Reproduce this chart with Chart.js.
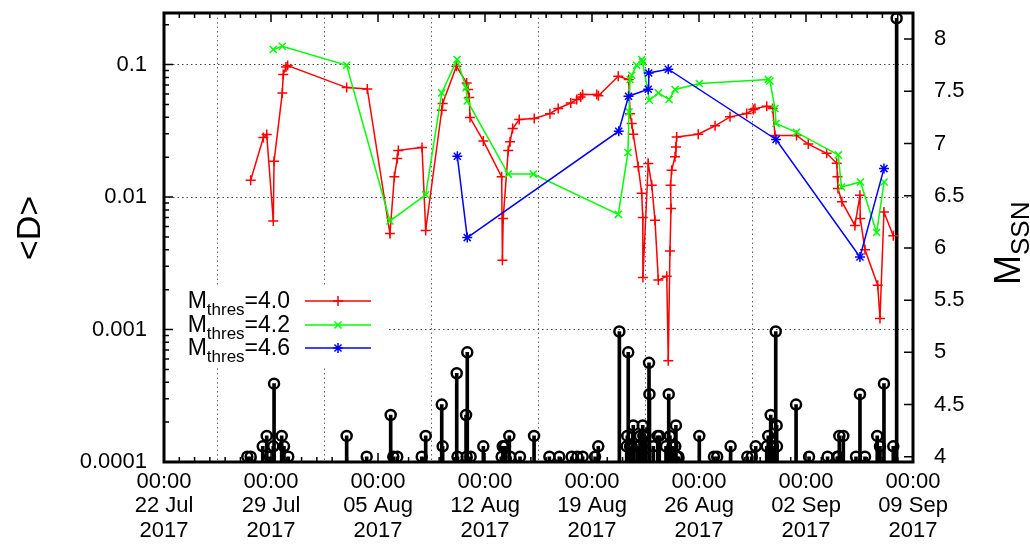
<!DOCTYPE html>
<html>
<head>
<meta charset="utf-8">
<script src="https://cdn.jsdelivr.net/npm/chart.js@4.4.1/dist/chart.umd.min.js"></script>
<style>
  html, body { margin: 0; padding: 0; background: #fff; }
  canvas { display: block; }
</style>
</head>
<body>
<canvas id="chart" width="1030" height="545"></canvas>
<script>
'use strict'

// x values are days counted from 22 Jul 2017 00:00
var xTickLabels = ['22 Jul', '29 Jul', '05 Aug', '12 Aug', '19 Aug', '26 Aug', '02 Sep', '09 Sep']
var xTickYear = '2017'
var yTickLabels = ['0.0001', '0.001', '0.01', '0.1']
var thresholds = ['4.0', '4.2', '4.6']

var redDays = [5.67, 6.50, 6.72, 7.15, 7.20, 7.74, 7.80, 7.98, 8.09, 11.95, 13.30, 14.78, 15.07, 15.26, 15.33,
  16.88, 17.12, 18.17, 18.23, 19.13, 19.80, 19.89, 19.97, 20.02, 20.89, 22.09, 22.14, 22.19, 22.52, 22.64,
  22.81, 23.24, 24.22, 25.25, 25.79, 26.61, 27.00, 27.26, 27.39, 28.31, 28.42, 29.72, 30.40, 30.49, 30.60,
  30.70, 31.03, 31.25, 31.32, 31.33, 31.68, 31.91, 32.12, 32.34, 32.89, 32.99, 33.10, 33.17, 33.14, 33.21,
  33.43, 33.49, 33.54, 34.95, 36.05, 37.03, 38.12, 38.55, 38.66, 39.43, 39.82, 39.97, 41.38, 42.15, 43.35,
  44.01, 44.06, 44.09, 44.35, 45.20, 45.53, 45.55, 45.86, 46.69, 46.84, 47.10, 47.71]
var redValues = [0.0134, 0.0281, 0.0297, 0.0066, 0.0186, 0.0611, 0.0841, 0.0959, 0.0983, 0.067, 0.0655, 0.0053, 0.0142, 0.0195, 0.0225,
  0.0237, 0.0056, 0.0452, 0.0508, 0.097, 0.0726, 0.0648, 0.0564, 0.0398, 0.0265, 0.0142, 0.00334, 0.0069, 0.0225, 0.0261,
  0.0329, 0.0385, 0.0391, 0.0426, 0.0466, 0.0513, 0.0544, 0.0569, 0.0594, 0.0594, 0.0582, 0.0816, 0.0771, 0.0426, 0.0359,
  0.0298, 0.0169, 0.0107, 0.0070, 0.00247, 0.0179, 0.0123, 0.00668, 0.00236, 0.00252, 0.00058, 0.00392, 0.0082, 0.0123, 0.0159,
  0.0201, 0.0239, 0.0284, 0.0298, 0.0345, 0.0403, 0.0427, 0.0457, 0.0465, 0.0485, 0.0466, 0.0292, 0.0292, 0.0251, 0.0214,
  0.0180, 0.0142, 0.0116, 0.0092, 0.0061, 0.0103, 0.0069, 0.0040, 0.00216, 0.00121, 0.0077, 0.0051]

var greenDays = [7.15, 7.74, 11.95, 14.78, 17.12, 18.17, 19.17, 19.76, 19.84, 22.52, 24.16, 29.72, 30.35, 30.42,
  30.49, 30.60, 30.92, 31.25, 31.31, 31.75, 32.34, 33.04, 33.43, 35.02, 39.53, 39.64, 39.97, 40.04, 41.38,
  44.11, 44.32, 45.56, 46.62, 47.11]
var greenValues = [0.130, 0.1374, 0.0988, 0.0066, 0.0104, 0.0611, 0.109, 0.067, 0.0531, 0.0149, 0.0149, 0.0074, 0.0217, 0.0439,
  0.0771, 0.083, 0.0988, 0.109, 0.1047, 0.0538, 0.0611, 0.0545, 0.0648, 0.072, 0.0771, 0.0752, 0.0466, 0.0359, 0.0308,
  0.0208, 0.0119, 0.0130, 0.0054, 0.0130]

var blueDays = [19.19, 19.84, 29.75, 30.39, 31.68, 31.71, 32.99, 40.04, 45.53, 47.10]
var blueValues = [0.0203, 0.00494, 0.0314, 0.0577, 0.0651, 0.0864, 0.0922, 0.0272, 0.00353, 0.0164]

var quakeDays = [5.45, 5.67, 6.46, 6.72, 6.93, 7.15, 7.20, 7.70, 7.85, 8.13, 11.95, 13.26, 14.83, 15.00, 15.26,
  16.86, 17.12, 18.17, 18.23, 19.15, 19.20, 19.76, 19.80, 19.84, 20.06, 20.89, 22.09, 22.16, 22.31, 22.59,
  22.64, 23.29, 24.21, 25.21, 25.86, 26.67, 27.04, 27.39, 28.20, 28.41, 29.79, 30.27, 30.31, 30.37, 30.49,
  30.60, 30.70, 30.94, 31.10, 31.14, 31.32, 31.36, 31.47, 31.50, 31.73, 31.76, 32.01, 32.30, 32.40, 32.84,
  33.02, 33.10, 33.26, 33.45, 33.49, 33.55, 33.65, 35.02, 35.98, 36.19, 37.07, 38.16, 38.45, 38.71, 39.43,
  39.53, 39.69, 39.84, 40.02, 40.08, 40.10, 41.35, 42.20, 43.41, 44.05, 44.11, 44.18, 44.44, 45.27, 45.53,
  45.86, 46.66, 46.84, 47.10, 47.71, 47.93]
var quakeMags = [4.0, 4.0, 4.1, 4.2, 4.0, 4.1, 4.7, 4.2, 4.1, 4.0, 4.2, 4.0, 4.4, 4.0, 4.0,
  4.0, 4.2, 4.5, 4.1, 4.8, 4.0, 4.4, 4.0, 5.0, 4.0, 4.1, 4.0, 4.1, 4.1, 4.2,
  4.0, 4.0, 4.2, 4.0, 4.0, 4.0, 4.0, 4.0, 4.0, 4.1, 5.2, 4.1, 4.2, 5.0, 4.1,
  4.1, 4.3, 4.1, 4.1, 4.2, 4.3, 4.2, 4.0, 4.2, 4.9, 4.6, 4.1, 4.2, 4.2, 4.1,
  4.6, 4.2, 4.1, 4.1, 4.3, 4.0, 4.0, 4.2, 4.0, 4.0, 4.1, 4.0, 4.0, 4.1, 4.1,
  4.2, 4.4, 4.1, 5.2, 4.3, 4.1, 4.5, 4.0, 4.0, 4.0, 4.0, 4.2, 4.2, 4.0, 4.6,
  4.0, 4.2, 4.1, 4.7, 4.1, 8.2]

function zip(xs, ys) {
  return xs.map(function(x, i) { return { x: x, y: ys[i] } })
}

function isDecade(v) {
  var l = Math.log10(v)
  return Math.abs(l - Math.round(l)) < 1e-6
}

var FONT = 'Liberation Sans, Arial, Helvetica, sans-serif'

var series = [
  { days: redDays, values: redValues, color: '#ff0000', style: 'cross' },
  { days: greenDays, values: greenValues, color: '#00ff00', style: 'crossRot' },
  { days: blueDays, values: blueValues, color: '#0000ff', style: 'star' }
]

var key = { right: 290, lineFrom: 305, lineTo: 371, rows: [301, 325, 348] }

var gnuplotFrame = {
  id: 'gnuplotFrame',
  beforeDatasetsDraw: function(chart) {
    var ctx = chart.ctx
    // opaque key box hides the grid behind it
    ctx.save()
    ctx.fillStyle = '#fff'
    ctx.fillRect(chart.chartArea.left + 2, 286, 384 - chart.chartArea.left, 80)
    ctx.restore()
  },
  afterDatasetsDraw: function(chart) {
    var ctx = chart.ctx
    var a = chart.chartArea
    var xs = chart.scales.x, ys = chart.scales.y, y2s = chart.scales.y2
    ctx.save()
    ctx.strokeStyle = '#000'
    ctx.lineWidth = 1.5
    ctx.beginPath()
    for (var d = 0; d <= 49; d++) {
      var px = xs.getPixelForValue(d)
      var len = d % 7 === 0 ? 9 : 5
      ctx.moveTo(px, a.bottom); ctx.lineTo(px, a.bottom - len)
      ctx.moveTo(px, a.top); ctx.lineTo(px, a.top + len)
    }
    for (var e = -4; e <= -1; e++) {
      for (var m = 1; m <= 9; m++) {
        var v = m * Math.pow(10, e)
        if (v > ys.max) break
        var py = ys.getPixelForValue(v)
        ctx.moveTo(a.left, py); ctx.lineTo(a.left + (m === 1 ? 9 : 5), py)
      }
    }
    for (var mv = 4; mv <= 8; mv += 0.5) {
      var py2 = y2s.getPixelForValue(mv)
      ctx.moveTo(a.right, py2); ctx.lineTo(a.right - 9, py2)
    }
    ctx.stroke()
    ctx.lineWidth = 3
    ctx.strokeRect(a.left, a.top, a.right - a.left, a.bottom - a.top)

    // key
    ctx.fillStyle = '#000'
    ctx.textBaseline = 'alphabetic'
    series.forEach(function(s, i) {
      var rowY = key.rows[i]
      var base = rowY + 7
      ctx.font = '23px ' + FONT
      var tail = '=' + thresholds[i]
      var wTail = ctx.measureText(tail).width
      var wM = ctx.measureText('M').width
      ctx.font = '17px ' + FONT
      var wSub = ctx.measureText('thres').width
      var x0 = key.right - wTail - wSub - wM
      ctx.font = '23px ' + FONT
      ctx.fillText('M', x0, base)
      ctx.fillText(tail, key.right - wTail, base)
      ctx.font = '17px ' + FONT
      ctx.fillText('thres', x0 + wM, base + 7)
      ctx.strokeStyle = s.color
      ctx.lineWidth = 1.5
      ctx.beginPath()
      ctx.moveTo(key.lineFrom, rowY); ctx.lineTo(key.lineTo, rowY)
      ctx.stroke()
      Chart.helpers.drawPoint(ctx, { pointStyle: s.style, radius: 5, borderWidth: 1.5 },
        (key.lineFrom + key.lineTo) / 2, rowY)
    })

    // axis titles
    ctx.fillStyle = '#000'
    ctx.save()
    ctx.translate(40, 228)
    ctx.rotate(-Math.PI / 2)
    ctx.font = '34px ' + FONT
    ctx.textAlign = 'center'
    ctx.fillText('<D>', 0, 0)
    ctx.restore()

    ctx.save()
    ctx.translate(1020, 285)
    ctx.rotate(-Math.PI / 2)
    ctx.font = '36px ' + FONT
    ctx.fillText('M', 0, 0)
    var wMain = ctx.measureText('M').width
    ctx.font = '26px ' + FONT
    ctx.fillText('SSN', wMain, 9)
    ctx.restore()
    ctx.restore()
  }
}

var datasets = [
  {
    type: 'bar',
    data: zip(quakeDays, quakeMags),
    yAxisID: 'y2',
    backgroundColor: '#000',
    barThickness: 3,
    grouped: false,
    order: 5
  },
  {
    type: 'scatter',
    data: zip(quakeDays, quakeMags),
    yAxisID: 'y2',
    pointStyle: 'circle',
    pointRadius: 5,
    borderColor: '#000',
    backgroundColor: 'rgba(0,0,0,0)',
    borderWidth: 2.5,
    order: 4
  }
]
series.forEach(function(s, i) {
  datasets.push({
    type: 'line',
    data: zip(s.days, s.values),
    yAxisID: 'y',
    borderColor: s.color,
    backgroundColor: s.color,
    borderWidth: 1.5,
    pointStyle: s.style,
    pointRadius: 5,
    pointBorderWidth: 1.5,
    tension: 0,
    fill: false,
    order: 3 - i
  })
})

function fitVertical(width) {
  return function(s) {
    s.width = width
    s.paddingTop = 0
    s.paddingBottom = 0
  }
}

new Chart(document.getElementById('chart'), {
  type: 'scatter',
  data: { datasets: datasets },
  options: {
    responsive: false,
    animation: false,
    devicePixelRatio: 1,
    layout: { padding: { top: 13, left: 0, right: 0, bottom: 0 } },
    plugins: { legend: { display: false }, tooltip: { enabled: false } },
    scales: {
      x: {
        type: 'linear',
        min: 0,
        max: 49,
        offset: false,
        afterFit: function(s) { s.height = 83; s.paddingLeft = 0; s.paddingRight = 0 },
        grid: {
          drawTicks: false,
          color: function(c) { return (c.tick && c.tick.value > 0 && c.tick.value < 49) ? '#666' : 'rgba(0,0,0,0)' },
          lineWidth: 1
        },
        border: { display: false, dash: [1.5, 3] },
        ticks: {
          stepSize: 7,
          autoSkip: false,
          maxRotation: 0,
          padding: 8,
          color: '#000',
          font: { family: FONT, size: 22, lineHeight: 1.1 },
          callback: function(v) { return ['00:00', xTickLabels[Math.round(v / 7)], xTickYear] }
        }
      },
      y: {
        type: 'logarithmic',
        position: 'left',
        min: 0.0001,
        max: 0.245,
        afterFit: fitVertical(164),
        grid: {
          drawTicks: false,
          color: function(c) {
            var v = c.tick && c.tick.value
            return (v && isDecade(v) && v > 0.0002) ? '#444' : 'rgba(0,0,0,0)'
          },
          lineWidth: 1
        },
        border: { display: false, dash: [1.5, 3] },
        ticks: {
          autoSkip: false,
          padding: 17,
          color: '#000',
          font: { family: FONT, size: 22 },
          callback: function(v) {
            if (!isDecade(v)) return ''
            return yTickLabels[Math.round(Math.log10(v)) + 4] || ''
          }
        }
      },
      y2: {
        type: 'linear',
        position: 'right',
        min: 3.95,
        max: 8.25,
        afterFit: fitVertical(117),
        grid: { display: false, drawTicks: false },
        border: { display: false },
        ticks: {
          stepSize: 0.5,
          includeBounds: false,
          autoSkip: false,
          padding: 21,
          color: '#000',
          font: { family: FONT, size: 22 },
          callback: function(v) { return String(v) }
        }
      }
    }
  },
  plugins: [gnuplotFrame]
})
</script>
</body>
</html>
